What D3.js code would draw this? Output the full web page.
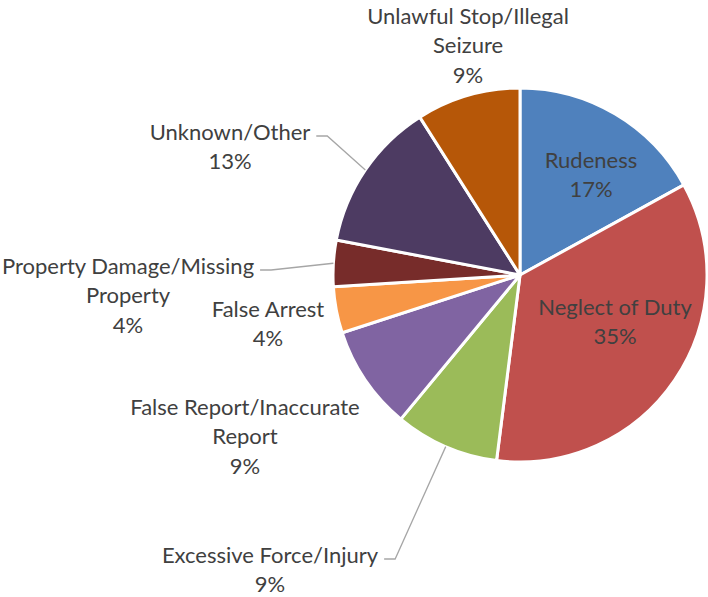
<!DOCTYPE html>
<html>
<head>
<meta charset="utf-8">
<script src="https://cdn.jsdelivr.net/npm/d3@7"></script>
<style>
  body { margin: 0; background: #fff; }
  text { font-family: Lato, "Open Sans", sans-serif; fill: #404040; }
</style>
</head>
<body>
<div id="chart-area"></div>
<script>
// Data
const categories = [
  "Rudeness", "Neglect of Duty", "Excessive Force/Injury",
  "False Report/Inaccurate Report", "False Arrest",
  "Property Damage/Missing Property", "Unknown/Other",
  "Unlawful Stop/Illegal Seizure"
];
const shares = [17, 35, 9, 9, 4, 4, 13, 9];
const sliceColors = ["#4F81BD", "#C0504D", "#9BBB59", "#8064A2", "#F79646", "#772C2A", "#4D3B62", "#B65708"];
// label text lines, as wrapped in the picture
const labelLines = [
  ["Rudeness"], ["Neglect of Duty"], ["Excessive Force/Injury"],
  ["False Report/Inaccurate", "Report"], ["False Arrest"],
  ["Property Damage/Missing", "Property"], ["Unknown/Other"],
  ["Unlawful Stop/Illegal", "Seizure"]
];

const width = 708, height = 597;
const cx = 520, cy = 275, radius = 187;
const lineH = 29.5;

// label anchor (center of first line) relative to pie center, plus leader line flag
const labelLayout = [
  { dx: 71, dy: -115 },
  { dx: 95, dy: 32 },
  { dx: -250, dy: 280, leader: true },
  { dx: -275, dy: 132 },
  { dx: -252, dy: 34 },
  { dx: -392, dy: -9, leader: true },
  { dx: -290, dy: -143, leader: true },
  { dx: -52, dy: -259 }
];

const svg = d3.select("#chart-area").append("svg")
  .attr("width", width)
  .attr("height", height);

const g = svg.append("g").attr("transform", `translate(${cx},${cy})`);

const pie = d3.pie().sort(null).value(d => d);
const arcs = pie(shares);
const arc = d3.arc().innerRadius(0).outerRadius(radius);

g.selectAll("path.slice")
  .data(arcs)
  .join("path")
    .attr("class", "slice")
    .attr("d", arc)
    .attr("fill", (d, i) => sliceColors[i])
    .attr("stroke", "#fff")
    .attr("stroke-width", 3)
    .attr("stroke-linejoin", "round");

// point on the rim at the slice's middle angle
const edgePoint = d => {
  const a = (d.startAngle + d.endAngle) / 2;
  return [Math.sin(a) * radius, -Math.cos(a) * radius];
};

const labels = g.selectAll("g.label")
  .data(arcs)
  .join("g")
    .attr("class", "label")
    .attr("transform", (d, i) => `translate(${labelLayout[i].dx},${labelLayout[i].dy})`);

labels.each(function(d, i) {
  const lines = labelLines[i].concat([Math.round(shares[i]) + "%"]);
  const t = d3.select(this).append("text")
    .attr("text-anchor", "middle")
    .attr("font-size", 22);
  lines.forEach((ln, k) => {
    t.append("tspan").attr("x", 0).attr("y", k * lineH).attr("dy", "0.35em").text(ln);
  });
});

// leader lines: short horizontal tick after first line, then to the rim
labels.each(function(d, i) {
  const lay = labelLayout[i];
  if (!lay.leader) return;
  const w = d3.select(this).select("tspan").node().getComputedTextLength();
  const x0 = lay.dx + w / 2 + 6, y0 = lay.dy + 4;
  g.append("path")
    .attr("d", d3.line()([[x0, y0], [x0 + 11, y0], edgePoint(d)]))
    .attr("fill", "none")
    .attr("stroke", "#A6A6A6")
    .attr("stroke-width", 1.3);
});
</script>
</body>
</html>
